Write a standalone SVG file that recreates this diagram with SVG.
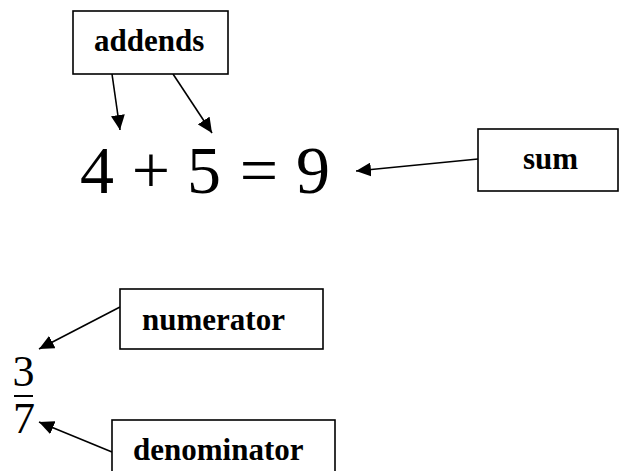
<svg xmlns="http://www.w3.org/2000/svg" width="619" height="471" viewBox="0 0 619 471">
<style>
.box{fill:#fff;stroke:#000;stroke-width:1.6}
.lbl{font-family:"Liberation Serif","Times New Roman",serif;font-weight:bold;font-size:31px;fill:#000}
.mth{font-family:"Liberation Serif","Times New Roman",serif;fill:#000}
.conn{stroke:#000;stroke-width:1.6;fill:none;marker-end:url(#ah)}
</style>
<defs>
<marker id="ah" markerUnits="userSpaceOnUse" markerWidth="16" markerHeight="14" refX="15" refY="7" orient="auto">
<path d="M0,0 L15,7 L0,14 Z" fill="#000"/>
</marker>
</defs>
<rect width="619" height="471" fill="#fff"/>
<g id="connectors">
<line class="conn" x1="112" y1="74" x2="120" y2="130"/>
<line class="conn" x1="173" y1="74" x2="212" y2="133"/>
<line class="conn" x1="478" y1="159" x2="356" y2="171"/>
<line class="conn" x1="120" y1="307" x2="39" y2="349"/>
<line class="conn" x1="112" y1="452" x2="39" y2="422"/>
</g>
<g id="addends">
<rect class="box" x="73" y="11" width="155" height="63"/>
<text class="lbl" x="94" y="51">addends</text>
</g>
<g id="equation" font-size="68" text-anchor="middle">
<text class="mth" x="97" y="193">4</text>
<text class="mth" x="151" y="193">+</text>
<text class="mth" x="204" y="193">5</text>
<text class="mth" x="259" y="193">=</text>
<text class="mth" x="313" y="193">9</text>
</g>
<g id="fraction" font-size="44" text-anchor="middle">
<text class="mth" x="23.5" y="386">3</text>
<line x1="14" y1="396" x2="33" y2="396" stroke="#000" stroke-width="2"/>
<text class="mth" x="24" y="433">7</text>
</g>
<g id="sum">
<rect class="box" x="478" y="129" width="140" height="62"/>
<text class="lbl" x="523" y="169">sum</text>
</g>
<g id="numerator">
<rect class="box" x="120" y="289" width="203" height="60"/>
<text class="lbl" x="142" y="330">numerator</text>
</g>
<g id="denominator">
<rect class="box" x="112" y="420" width="223" height="70"/>
<text class="lbl" x="133" y="460">denominator</text>
</g>
</svg>
